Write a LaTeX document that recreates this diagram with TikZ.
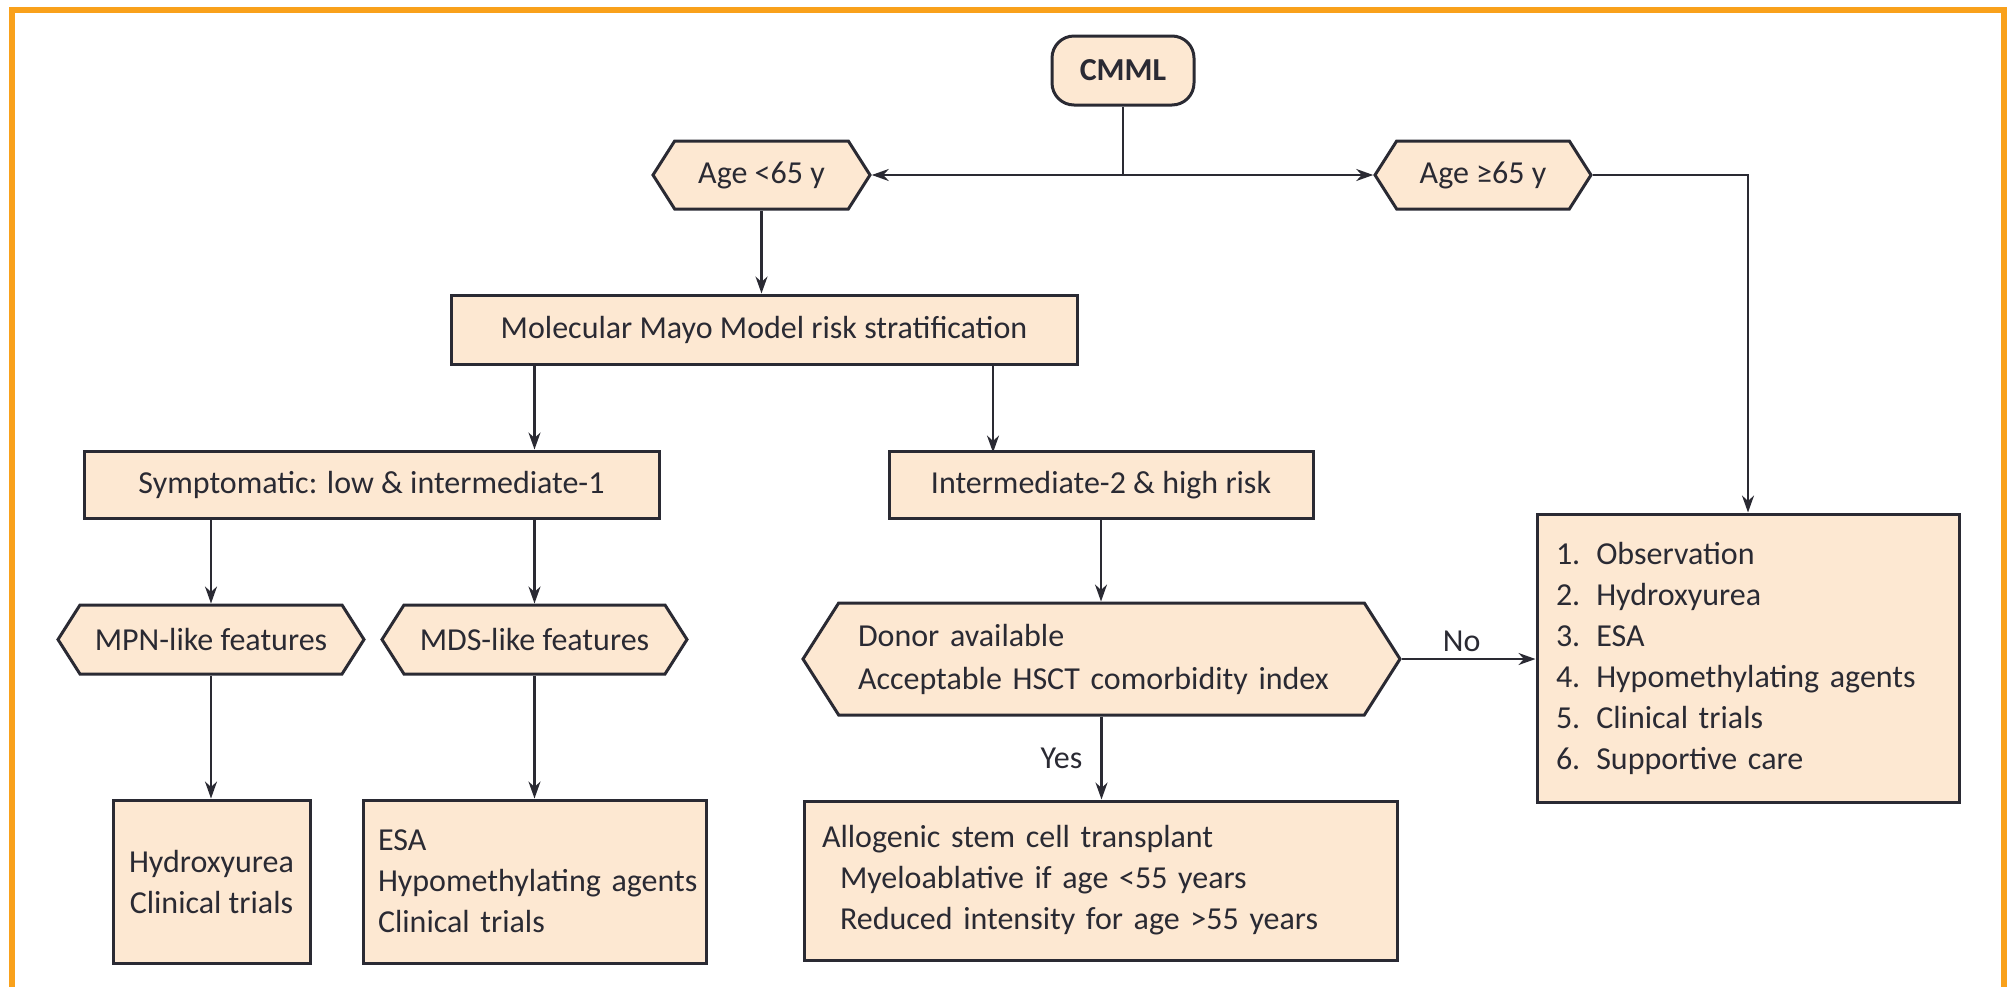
\documentclass[tikz,border=0pt]{standalone}
\usepackage{fontspec}
\setmainfont{Carlito}
\usetikzlibrary{arrows.meta,shapes.symbols}
\definecolor{peach}{HTML}{FDE8D2}
\definecolor{frame}{HTML}{F9A11B}
\definecolor{ink}{HTML}{2A2A33}
\begin{document}
\begin{tikzpicture}[x=1pt,y=-1pt,
  every node/.style={font=\fontsize{32}{41}\selectfont, text=ink},
  box/.style={draw=ink, line width=3pt, fill=peach, rectangle, inner sep=0pt},
  hex/.style={draw=ink, line width=3pt, fill=peach, signal, signal to=west and east, signal pointer angle=115, inner sep=0pt},
  conn/.style={draw=ink, line width=2.5pt},
  arr/.style={conn, -{Stealth[length=17pt,width=12pt]}},
  lbl/.style={inner sep=0pt}
]
\useasboundingbox (0,0) rectangle (2013,986);
\draw[frame, line width=6pt] (11.5,10) rectangle (2004,990);

\node[box, rounded corners=22pt, minimum width=142pt, minimum height=69pt, font=\bfseries\fontsize{32}{41}\selectfont] (cmml) at (1123,70.5) {CMML};
\node[hex, minimum width=217pt, minimum height=68pt] (young) at (761.5,175) {Age <65 y};
\node[hex, minimum width=216pt, minimum height=68pt] (old) at (1483,175) {Age ≥65 y};
\node[box, minimum width=626pt, minimum height=69pt] (mol) at (764,329.5) {Molecular Mayo Model risk stratification};
\node[box, minimum width=575pt, minimum height=67pt] (sym) at (371.5,484.5) {Symptomatic: low \& intermediate-1};
\node[box, minimum width=424pt, minimum height=67pt] (int) at (1101,485) {Intermediate-2 \& high risk};
\node[hex, minimum width=306pt, minimum height=69pt] (mpn) at (211,639.5) {MPN-like features};
\node[hex, minimum width=305pt, minimum height=69pt] (mds) at (534.5,639.5) {MDS-like features};
\node[hex, minimum width=597pt, minimum height=112pt, text width=487pt, align=left, font=\fontsize{32}{43}\selectfont] (donor) at (1101.5,659) {Donor available\\Acceptable HSCT comorbidity index};
\node[box, minimum width=197pt, minimum height=163pt, align=center] (hu) at (211.5,881.5) {Hydroxyurea\\Clinical trials};
\node[box, minimum width=343pt, minimum height=163pt, text width=313pt, align=left] (esa) at (534.5,881.5) {ESA\\\mbox{Hypomethylating agents}\\Clinical trials};
\node[box, minimum width=593pt, minimum height=159pt, text width=557pt, align=left] (allo) at (1100.5,880.5) {Allogenic stem cell transplant\\\hspace*{18pt}Myeloablative if age <55 years\\\hspace*{18pt}Reduced intensity for age >55 years};
\node[box, minimum width=422pt, minimum height=288pt, text width=384pt, align=left] (opts) at (1748,658) {1. Observation\\2. Hydroxyurea\\3. ESA\\4. Hypomethylating agents\\5. Clinical trials\\6. Supportive care};

\coordinate (split) at (cmml.south |- young.east);
\draw[conn] (cmml.south) -- (split);
\draw[arr] (split) -- (young.east);
\draw[arr] (split) -- (old.west);
\draw[arr] (old.east) -| (opts.north);
\draw[arr] (young.south) -- (young.south |- mol.north);
\draw[arr] (mds.north |- mol.south) -- (mds.north |- sym.north);
\draw[arr] ([xshift=229pt]mol.south) -- ++(0,87);
\draw[arr] (mpn.north |- sym.south) -- (mpn.north);
\draw[arr] (mds.north |- sym.south) -- (mds.north);
\draw[arr] (mpn.south) -- (mpn.south |- hu.north);
\draw[arr] (mds.south) -- (mds.south |- esa.north);
\draw[arr] (int.south) -- (int.south |- donor.north);
\draw[arr] (donor.south) -- (donor.south |- allo.north) node[lbl, midway, left, xshift=-18pt] {Yes};
\draw[arr] (donor.east) -- (donor.east -| opts.west) node[lbl, midway, above, xshift=-7pt, yshift=6pt] {No};
\end{tikzpicture}
\end{document}
